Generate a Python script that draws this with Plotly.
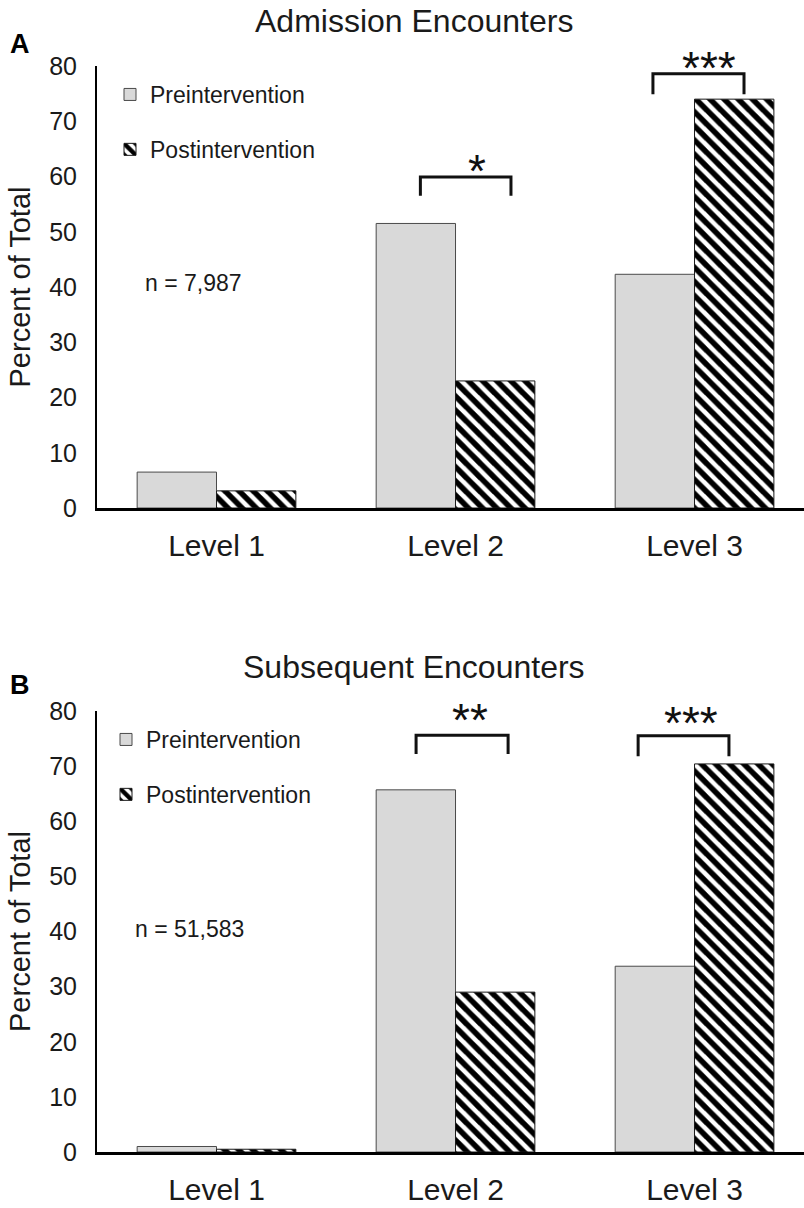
import plotly.graph_objects as go

categories = ["Level 1", "Level 2", "Level 3"]
series_names = ["Preintervention", "Postintervention"]

admission_pre = [6.5, 51.5, 42.3]
admission_post = [3.1, 23.0, 74.0]
subsequent_pre = [1.0, 65.7, 33.7]
subsequent_post = [0.5, 29.0, 70.4]

panel_titles = ["Admission Encounters", "Subsequent Encounters"]
panel_letters = ["A", "B"]
n_labels = ["n = 7,987", "n = 51,583"]
y_title = "Percent of Total"

# significance brackets: (x_start, x_end, y_top, y_leg_bottom, label, label_x, label_y)
brackets_a = [(0.853, 1.232, 59.9, 56.5, "*", 1.09, 61.0),
              (1.826, 2.207, 78.6, 74.9, "***", 2.06, 79.7)]
brackets_b = [(0.835, 1.220, 75.6, 72.2, "**", 1.06, 78.3),
              (1.764, 2.144, 75.5, 71.8, "***", 1.985, 77.9)]

FONT = "Liberation Sans, Arial, sans-serif"
TXT = "#1a1a1a"
W, H = 804, 1208
ML = 97
PW = W - ML

xs = list(range(len(categories)))
BW = 0.332

fig = go.Figure()

def add_pair(pre, post, xa, ya, legend):
    fig.add_trace(go.Bar(
        x=xs, y=pre, name=series_names[0], xaxis=xa, yaxis=ya,
        width=BW, offset=-BW, legend=legend, legendgroup=legend + "pre",
        marker=dict(color="#d9d9d9", line=dict(color="#4a4a4a", width=1)),
    ))
    fig.add_trace(go.Bar(
        x=xs, y=post, name=series_names[1], xaxis=xa, yaxis=ya,
        width=BW, offset=0, legend=legend, legendgroup=legend + "post",
        marker=dict(color="white", line=dict(color="#1a1a1a", width=1),
                    pattern=dict(shape="\\", fgcolor="#000000", bgcolor="#ffffff",
                                 fgopacity=1, size=10, solidity=0.55)),
    ))

add_pair(admission_pre, admission_post, "x", "y", "legend")
add_pair(subsequent_pre, subsequent_post, "x2", "y2", "legend2")

def py(px):
    return 1 - px / H

def pxx(px):
    return (px - ML) / PW

dom_a = [py(508), py(66)]
dom_b = [py(1152), py(711)]

xcommon = dict(range=[-0.5, 2.458], tickmode="array", tickvals=xs, ticktext=categories,
               showline=True, linewidth=2.5, linecolor="black", ticks="",
               tickfont=dict(family=FONT, size=30, color=TXT), showgrid=False,
               zeroline=False, ticklabelstandoff=9, fixedrange=True, automargin=False)
ycommon = dict(range=[0, 80], dtick=10, tick0=0, showline=True, linewidth=2, linecolor="black",
               ticks="", tickfont=dict(family=FONT, size=25, color=TXT), showgrid=False,
               zeroline=False, ticklabelstandoff=13, automargin=False, fixedrange=True,
               title=dict(text=y_title, font=dict(family=FONT, size=29, color=TXT), standoff=10))

shapes = []
annotations = []
for brs, xr, yr in [(brackets_a, "x", "y"), (brackets_b, "x2", "y2")]:
    for x0, x1, yt, yb, lab, lx, ly in brs:
        shapes.append(dict(type="path", xref=xr, yref=yr,
                           path=f"M {x0},{yb} L {x0},{yt} L {x1},{yt} L {x1},{yb}",
                           line=dict(color="#111", width=3)))
        annotations.append(dict(xref=xr, yref=yr, x=lx, y=ly, text=lab, showarrow=False,
                                xanchor="center", yanchor="middle",
                                font=dict(family=FONT, size=46, color="#111")))

for title, ty, letter, ly, nlab, nx, ny in [
        (panel_titles[0], 21, panel_letters[0], 44, n_labels[0], 143, 283),
        (panel_titles[1], 667, panel_letters[1], 685, n_labels[1], 133, 929)]:
    annotations.append(dict(xref="paper", yref="paper", x=pxx(414), y=py(ty), text=title,
                            showarrow=False, xanchor="center", yanchor="middle",
                            font=dict(family=FONT, size=32, color=TXT)))
    annotations.append(dict(xref="paper", yref="paper", x=pxx(20), y=py(ly), text=f"<b>{letter}</b>",
                            showarrow=False, xanchor="center", yanchor="middle",
                            font=dict(family=FONT, size=27, color="black")))
    annotations.append(dict(xref="paper", yref="paper", x=pxx(nx), y=py(ny), text=nlab,
                            showarrow=False, xanchor="left", yanchor="middle",
                            font=dict(family=FONT, size=23, color=TXT)))

legcommon = dict(xanchor="left", yanchor="top", bgcolor="rgba(0,0,0,0)",
                 font=dict(family=FONT, size=23, color=TXT), tracegroupgap=22,
                 traceorder="grouped", itemclick=False, itemdoubleclick=False)

fig.update_layout(
    width=W, height=H,
    margin=dict(l=ML, r=0, t=0, b=0, autoexpand=False),
    paper_bgcolor="white", plot_bgcolor="white",
    barmode="overlay",
    showlegend=True,
    xaxis=dict(domain=[0, 1], anchor="y", **xcommon),
    yaxis=dict(domain=dom_a, anchor="x", **ycommon),
    xaxis2=dict(domain=[0, 1], anchor="y2", **xcommon),
    yaxis2=dict(domain=dom_b, anchor="x2", **ycommon),
    legend=dict(x=pxx(110), y=py(73), **legcommon),
    legend2=dict(x=pxx(106), y=py(718), **legcommon),
    shapes=shapes,
    annotations=annotations,
)

fig.write_html("out.html", config={"displayModeBar": False},
               post_script="document.body.style.margin='0';document.body.style.overflow='hidden';")
